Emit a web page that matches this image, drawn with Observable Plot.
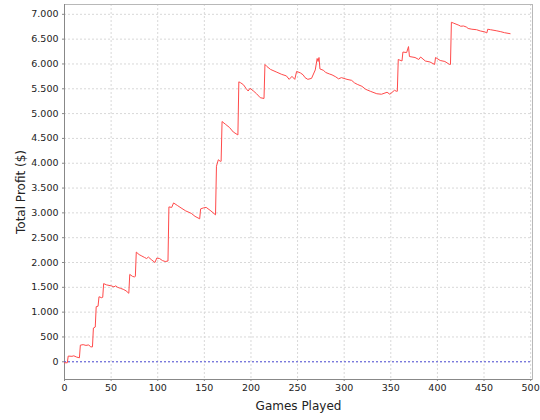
<!DOCTYPE html>
<html>
<head>
<meta charset="utf-8">
<script src="https://cdn.jsdelivr.net/npm/d3@7"></script>
<script src="https://cdn.jsdelivr.net/npm/@observablehq/plot@0.6"></script>
<style>
  html, body { margin: 0; padding: 0; background: #fff; }
  #chart svg { display: block; }
  g[aria-label="y-axis label"] text, g[aria-label="x-axis label"] text { font-size: 12px; }
</style>
</head>
<body>
<div id="chart"></div>
<script>
const games = [0,3,4,8,10,13,16,17,20,23,26,28,30,31,33,34,36,37,40,41,42,45,50,53,55,57,60,63,66,69,70,73,75,76,77,80,83,86,88,90,93,97,99,102,105,108,111,112,115,117,121,125,130,136,140,145,146,149,152,157,162,163,165,167,168,169,173,177,181,186,187,189,192,195,197,199,203,206,210,214,215,217,221,227,233,238,241,244,247,249,253,256,258,261,265,269,271,272,273,274,278,280,284,287,291,294,297,303,308,311,314,319,323,328,335,340,346,349,354,356,357,358,362,363,367,369,370,376,380,382,387,392,397,398,403,408,413,414,415,417,421,423,425,428,431,433,437,442,446,451,453,454,457,463,468,472,478];
const profit = [-20,-20,115,110,120,95,80,335,345,330,340,300,300,680,700,1110,1120,1310,1290,1300,1575,1550,1530,1510,1530,1500,1480,1460,1430,1380,1760,1720,1710,1720,2210,2160,2130,2100,2080,2110,2060,2000,2090,2080,2040,2020,2030,3120,3110,3200,3150,3100,3040,2990,2930,2880,3080,3100,3110,3040,2960,3940,4070,4040,4040,4840,4780,4720,4630,4570,5640,5620,5580,5500,5455,5510,5450,5400,5320,5305,5990,5950,5890,5840,5790,5760,5690,5750,5690,5850,5820,5780,5725,5690,5710,5880,6110,6050,6130,5900,5870,5830,5800,5780,5740,5700,5725,5690,5670,5620,5590,5550,5490,5450,5400,5390,5430,5390,5470,5450,5450,6090,6060,6240,6230,6350,6150,6130,6090,6140,6060,6040,5990,6130,6070,6050,5990,5990,6840,6825,6795,6780,6760,6765,6745,6715,6700,6690,6665,6645,6625,6700,6690,6670,6650,6630,6610];
const xTicks = [0,50,100,150,200,250,300,350,400,450,500];
const yTicks = [0,500,1000,1500,2000,2500,3000,3500,4000,4500,5000,5500,6000,6500,7000];
const xDomain = [0, 502];
const yDomain = [-357, 7198];
const baseline = [0];

const data = games.map((g, i) => ({game: g, profit: profit[i]}));
const loc = d3.formatLocale({decimal: ",", thousands: ".", grouping: [3], currency: ["", "$"]});
const fmt = loc.format(",d");

const chart = Plot.plot({
  width: 540,
  height: 420,
  marginLeft: 64,
  marginTop: 4,
  marginRight: 8,
  marginBottom: 41,
  style: {fontFamily: "DejaVu Sans, sans-serif", fontSize: "9.5px", color: "#222", background: "#fff"},
  x: {domain: xDomain},
  y: {domain: yDomain},
  marks: [
    Plot.gridX(xTicks, {stroke: "#d8d8d8", strokeOpacity: 1, strokeDasharray: "2,2"}),
    Plot.gridY(yTicks, {stroke: "#d8d8d8", strokeOpacity: 1, strokeDasharray: "2,2"}),
    Plot.frame({stroke: "#b8b8b8"}),
    Plot.ruleX([xDomain[0]], {stroke: "#888"}),
    Plot.ruleY([yDomain[0]], {stroke: "#888"}),
    Plot.ruleY(baseline, {stroke: "#5555dd", strokeDasharray: "2,2", strokeWidth: 1}),
    Plot.line(data, {x: "game", y: "profit", stroke: "#ff4a4a", strokeWidth: 1}),
    Plot.axisX({ticks: xTicks, tickSize: 2, tickPadding: 3, stroke: "#888", tickFormat: d => String(d),
      label: "Games Played", labelAnchor: "center", labelArrow: "none", labelOffset: 30}),
    Plot.axisY({ticks: yTicks, tickSize: 2, tickPadding: 4, stroke: "#888", tickFormat: fmt,
      label: "Total Profit ($)", labelAnchor: "center", labelArrow: "none", labelOffset: 48})
  ]
});
document.getElementById("chart").append(chart);
</script>
</body>
</html>
